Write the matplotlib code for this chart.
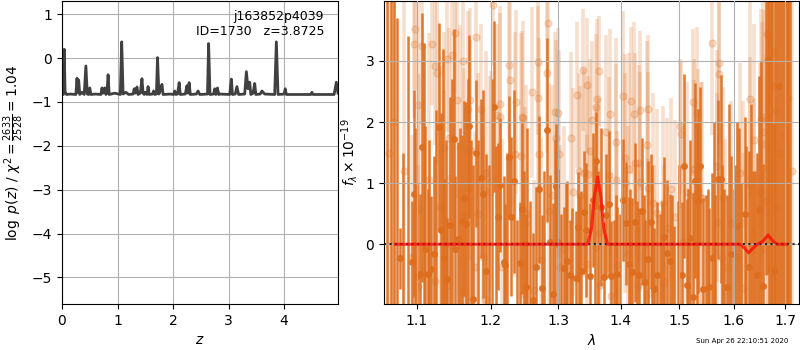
import matplotlib
matplotlib.use("Agg")
import matplotlib.pyplot as plt
from matplotlib.ticker import FixedLocator, NullLocator, FormatStrFormatter

# ---------------------------------------------------------------------------
# p(z) curve (vertices)
# ---------------------------------------------------------------------------
z_grid = [0.00, 0.025, 0.04, 0.055, 0.08, 0.15, 0.25, 0.27, 0.285, 0.30, 0.32,
          0.36, 0.40, 0.43, 0.455, 0.48, 0.50, 0.52, 0.60, 0.70, 0.72, 0.74,
          0.77, 0.79, 0.81, 0.83, 0.85, 0.95, 1.05, 1.075, 1.10, 1.15, 1.20,
          1.28, 1.30, 1.32, 1.35, 1.37, 1.41, 1.44, 1.46, 1.48, 1.50, 1.53,
          1.55, 1.57, 1.63, 1.65, 1.67, 1.70, 1.72, 1.745, 1.78, 1.80, 1.82,
          1.95, 2.01, 2.03, 2.05, 2.08, 2.11, 2.13, 2.22, 2.25, 2.27, 2.29,
          2.31, 2.42, 2.45, 2.48, 2.62, 2.64, 2.665, 2.73, 2.75, 2.77, 2.80,
          2.82, 2.84, 3.02, 3.05, 3.07, 3.12, 3.15, 3.18, 3.29, 3.32, 3.35,
          3.38, 3.40, 3.44, 3.47, 3.49, 3.57, 3.60, 3.65, 3.83, 3.86, 3.89,
          4.00, 4.02, 4.04, 4.48, 4.50, 4.52, 4.90, 4.94, 4.97]
logp = [-0.80, -0.83, 0.20, -0.76, -0.83, -0.82, -0.83, -0.46, -0.78, -0.50,
        -0.83, -0.78, -0.83, -0.18, -0.82, -0.83, -0.68, -0.83, -0.82, -0.83,
        -0.68, -0.80, -0.68, -0.83, -0.80, -0.38, -0.83, -0.80, -0.83, 0.37,
        -0.82, -0.78, -0.83, -0.82, -0.70, -0.80, -0.66, -0.83, -0.80, -0.47,
        -0.80, -0.83, -0.78, -0.83, -0.65, -0.83, -0.82, -0.75, -0.83, -0.82,
        0.01, -0.82, -0.70, -0.60, -0.83, -0.82, -0.83, -0.75, -0.83, -0.82,
        -0.56, -0.83, -0.82, -0.63, -0.80, -0.56, -0.83, -0.82, -0.75, -0.83,
        -0.82, 0.33, -0.83, -0.82, -0.70, -0.83, -0.68, -0.83, -0.82, -0.83,
        -0.48, -0.83, -0.82, -0.65, -0.83, -0.82, -0.31, -0.70, -0.55, -0.83,
        -0.80, -0.58, -0.83, -0.82, -0.75, -0.82, -0.83, 0.37, -0.83, -0.82,
        -0.70, -0.83, -0.83, -0.78, -0.83, -0.83, -0.55, -0.80]

obj_name = "j163852p4039"
obj_info = "ID=1730   z=3.8725"
chi2_label = r"$\log\ p(z)$ / $\chi^2=\frac{2633}{2528}=1.04$"
stamp = "Sun Apr 26 22:10:51 2020"

# ---------------------------------------------------------------------------
# Spectrum: dark (first beam) points, wavelength in micron, flux in 1e-19
# (the last block holds bars whose centres are hidden under other bars)
# ---------------------------------------------------------------------------
lam_dark = [1.062, 1.067, 1.075, 1.078, 1.093, 1.096, 1.100, 1.104, 1.107,
            1.111, 1.114, 1.118, 1.122, 1.129, 1.132, 1.136, 1.140, 1.144,
            1.149, 1.151, 1.155, 1.160, 1.163, 1.166, 1.170, 1.175, 1.179,
            1.186, 1.190, 1.194, 1.205, 1.211, 1.214, 1.219, 1.221, 1.226,
            1.230, 1.234, 1.238, 1.242, 1.246, 1.251, 1.257, 1.262, 1.267,
            1.271, 1.276, 1.283, 1.287, 1.292, 1.297, 1.300, 1.305, 1.309,
            1.314, 1.318, 1.322, 1.327, 1.331, 1.336, 1.340, 1.344, 1.349,
            1.354, 1.359, 1.363, 1.368, 1.372, 1.376, 1.380, 1.384, 1.389,
            1.394, 1.399, 1.404, 1.409, 1.413, 1.418, 1.423, 1.427, 1.431,
            1.436, 1.441, 1.446, 1.450, 1.456, 1.461, 1.467, 1.474, 1.479,
            1.484, 1.490, 1.497, 1.504, 1.509, 1.514, 1.519, 1.524, 1.529,
            1.534, 1.538, 1.543, 1.548, 1.554, 1.559, 1.565, 1.571, 1.575,
            1.581, 1.587, 1.595, 1.600, 1.606, 1.613, 1.621, 1.628, 1.636,
            1.644, 1.649, 1.656, 1.661, 1.665, 1.671, 1.677, 1.683, 1.687,
            1.695, 1.703, 1.710,
            1.071, 1.082, 1.089, 1.098, 1.109, 1.116, 1.125, 1.134, 1.138,
            1.146, 1.157, 1.168, 1.173, 1.183, 1.198, 1.202, 1.208, 1.224,
            1.248, 1.253, 1.279, 1.295, 1.312, 1.333, 1.357, 1.392, 1.415,
            1.439, 1.453, 1.470, 1.487, 1.500, 1.516, 1.531, 1.551, 1.562,
            1.578, 1.591, 1.603, 1.610, 1.624, 1.633, 1.641, 1.652, 1.668,
            1.674, 1.680, 1.692, 1.699, 1.706]
flux_dark = [-1.5, 4.3, -1.3, -0.23, -0.29, 0.83, -0.52, -0.48, 1.59,
             -0.07, -0.49, -0.41, -0.16, 1.92, 0.24, -0.23, -0.57, 0.31,
             1.72, -0.08, 0.08, 0.38, 0.75, 0.33, 1.93, -0.90, 1.49,
             1.08, 0.82, -0.43, 2.25, 0.45, 0.97, -0.29, -0.34, 1.43,
             0.45, 1.03, -1.20, -0.31, 0.58, -0.70, -1.10, -0.91, -0.37,
             0.90, -0.72, 1.87, 0.03, -0.82, 0.96, 0.03, -1.20, -0.39,
             -0.27, -0.50, -1.30, -0.55, 0.28, -0.43, 0.52, 0.23, -0.52,
             0.72, 1.37, -1.20, 0.61, -0.54, 0.48, 0.66, -0.52, -1.40,
             -0.49, -1.20, 0.72, 0.34, -0.32, -0.45, 0.36, -1.30, -0.51,
             0.54, -0.61, -0.24, 0.37, -0.74, -0.51, -1.30, 0.12, -0.15,
             -0.27, -1.30, -1.20, -0.51, 1.28, -0.66, 0.10, -0.86, 1.04,
             0.71, 1.28, -0.74, -1.40, -0.70, -0.23, -1.30, 1.06, 1.07,
             -1.40, -0.70, -0.16, -1.30, 0.30, -1.50, 0.49, -0.37, -1.40,
             -0.51, 0.56, -0.69, 4.50, 3.02, -1.50, -0.43, 4.80, 2.59,
             -1.60, 4.60, -1.40,
             -1.5, -1.8, -1.4, -1.6, -1.3, -1.9, -1.2, -1.7, -1.1,
             -1.5, -1.3, -1.8, -1.2, -1.4, -1.3, -1.6, -1.2, -1.5,
             -1.3, -1.4, -1.2, -1.3, -1.4, -1.2, -1.3, -1.2, -1.4,
             -1.3, -1.5, -1.2, -1.4, -1.3, -1.4, -1.2, -1.5, -1.3,
             -1.6, -1.3, -1.5, -1.2, -1.6, -1.3, -1.7, -1.4, -1.2,
             -1.5, -1.3, -1.4, -1.6, -1.2]
err_dark = [6.0, 5.5, 5.0, 0.5, 1.0, 1.7, 1.5, 1.3, 2.2,
            2.0, 1.4, 1.2, 1.6, 1.7, 1.9, 1.3, 1.0, 2.1,
            1.8, 1.2, 1.6, 1.4, 1.6, 2.0, 1.5, 2.2, 1.2,
            1.3, 1.7, 1.9, 1.4, 1.2, 1.1, 1.4, 1.0, 1.0,
            1.3, 1.5, 1.6, 1.0, 1.4, 1.2, 1.8, 1.1, 1.3,
            1.2, 1.2, 1.5, 1.1, 1.5, 1.0, 1.2, 1.7, 1.0,
            1.3, 0.9, 1.9, 1.1, 0.9, 1.3, 1.0, 1.1, 1.2,
            1.1, 0.8, 2.4, 1.3, 0.9, 1.0, 1.2, 0.9, 1.8,
            1.1, 1.7, 1.0, 1.0, 1.1, 1.2, 1.3, 2.0, 1.1,
            1.2, 1.0, 1.6, 1.1, 1.0, 1.2, 1.8, 1.3, 1.2,
            1.1, 1.6, 1.9, 1.2, 1.5, 1.4, 1.6, 1.7, 1.6,
            1.5, 1.3, 1.5, 2.2, 1.3, 1.4, 2.1, 1.3, 1.7,
            2.3, 1.5, 1.6, 2.2, 1.7, 2.5, 1.6, 1.9, 2.6,
            2.0, 2.2, 2.0, 5.0, 3.5, 6.0, 2.4, 6.0, 3.6,
            6.0, 6.0, 5.5,
            7.0, 3.3, 4.8, 3.5, 4.6, 3.6, 3.4, 4.9, 2.8,
            4.2, 3.2, 4.5, 2.9, 3.1, 2.6, 4.3, 2.8, 3.0,
            2.5, 3.3, 2.4, 3.0, 2.4, 2.0, 2.6, 2.0, 2.3,
            2.1, 2.8, 1.9, 2.2, 2.6, 2.3, 3.2, 2.4, 3.3,
            2.9, 3.6, 2.8, 3.1, 3.2, 3.6, 2.9, 4.4, 7.0,
            7.0, 7.0, 7.0, 7.0, 7.0]

# light (second beam) points
lam_light = [1.064, 1.070, 1.083, 1.093, 1.096, 1.097, 1.101, 1.102, 1.103,
             1.107, 1.116, 1.120, 1.124, 1.124, 1.127, 1.131, 1.136, 1.136,
             1.140, 1.143, 1.143, 1.147, 1.151, 1.154, 1.158, 1.161, 1.163,
             1.163, 1.168, 1.171, 1.171, 1.178, 1.179, 1.182, 1.187, 1.189,
             1.192, 1.193, 1.199, 1.201, 1.204, 1.209, 1.213, 1.214, 1.217,
             1.226, 1.228, 1.235, 1.236, 1.244, 1.245, 1.247, 1.247, 1.250,
             1.251, 1.261, 1.263, 1.269, 1.270, 1.271, 1.274, 1.283, 1.284,
             1.286, 1.291, 1.295, 1.297, 1.299, 1.301, 1.302, 1.309, 1.319,
             1.323, 1.329, 1.332, 1.334, 1.339, 1.341, 1.345, 1.345, 1.347,
             1.350, 1.353, 1.359, 1.360, 1.361, 1.365, 1.365, 1.366, 1.375,
             1.380, 1.382, 1.384, 1.392, 1.392, 1.393, 1.403, 1.406, 1.407,
             1.412, 1.413, 1.416, 1.421, 1.423, 1.428, 1.431, 1.432, 1.432,
             1.443, 1.445, 1.446, 1.446, 1.454, 1.455, 1.461, 1.471, 1.473,
             1.479, 1.486, 1.493, 1.502, 1.503, 1.507, 1.514, 1.524, 1.526,
             1.527, 1.532, 1.534, 1.539, 1.540, 1.560, 1.568, 1.569, 1.573,
             1.573, 1.577, 1.580, 1.583, 1.594, 1.607, 1.612, 1.617, 1.618,
             1.630, 1.631, 1.638, 1.638, 1.650, 1.652, 1.654, 1.656, 1.658,
             1.662, 1.664, 1.666, 1.670, 1.674, 1.677, 1.682, 1.682, 1.689,
             1.697, 1.706, 1.714]
flux_light = [1.5, 2.0, 1.2, -0.21, 3.27, 3.52, -0.70, 2.28, 0.58,
              3.25, 1.05, 3.28, 2.92, -0.60, 2.81, 0.61, 1.57, 0.41,
              3.03, 1.74, -0.67, 3.09, 3.46, 2.36, 1.59, 3.00, 0.48,
              -0.79, 2.21, 2.36, 1.55, -0.37, 3.39, 0.50, 2.21, -0.21,
              -0.90, 1.16, 0.85, 1.03, 3.91, 2.11, 2.09, 2.30, -0.37,
              2.93, 2.69, 1.47, 2.33, 1.45, 2.09, 2.06, -0.81, 0.35,
              0.50, 2.49, -0.75, 2.40, 2.98, 1.48, -0.26, 2.80, 3.62,
              0.54, 0.80, 2.17, 1.74, 2.14, 1.48, -0.37, -0.07, 1.74,
              0.85, 2.44, 1.20, 0.79, 2.85, 1.16, 2.60, -0.32, 1.15,
              1.53, 2.03, 2.24, -0.04, 2.38, 2.84, 0.19, -0.67, 1.83,
              1.14, 2.13, -0.84, 1.68, 1.05, -0.34, 2.42, 1.00, 1.41,
              -0.16, 1.23, 2.35, 2.13, 1.33, -0.68, 1.33, 2.19, 1.02,
              1.62, 0.92, -0.81, 2.22, 0.68, -0.71, 0.51, 0.67, -0.61,
              0.27, 0.90, 0.44, 1.93, 1.80, 0.04, 0.85, 2.32, 0.79,
              1.23, 2.15, 0.87, 0.76, 0.75, 3.29, 0.37, 1.28, 2.96,
              2.79, -0.23, 0.77, -0.37, 0.35, -0.21, 1.16, -0.71, 0.35,
              2.38, 0.97, 1.70, 0.17, 0.86, 2.05, 1.64, 2.08, 1.84,
              0.70, 3.44, 1.24, 1.05, 2.59, 3.15, 2.20, 0.61, 1.49,
              1.8, 2.4, 1.2]
err_light = [3.5, 3.2, 3.0, 2.0, 1.2, 1.0, 2.0, 1.8, 2.2,
             1.3, 2.4, 1.0, 1.3, 2.0, 1.5, 2.3, 1.9, 2.1,
             1.2, 1.8, 1.8, 1.1, 1.0, 1.6, 2.0, 1.2, 2.4,
             1.7, 1.6, 1.5, 1.8, 2.2, 1.0, 2.3, 1.4, 2.0,
             1.7, 2.0, 1.9, 1.8, 1.0, 1.5, 1.7, 1.6, 2.1,
             1.2, 1.4, 2.0, 1.5, 2.0, 1.4, 1.6, 2.0, 1.9,
             2.1, 1.4, 1.8, 1.5, 1.2, 1.9, 2.0, 1.3, 0.9,
             2.1, 1.8, 1.3, 1.6, 1.4, 1.7, 2.0, 2.0, 1.4,
             1.7, 1.2, 1.6, 1.8, 1.0, 1.7, 1.1, 2.1, 1.6,
             1.5, 1.3, 1.2, 2.3, 1.3, 0.9, 2.2, 1.9, 1.6,
             1.6, 1.4, 2.0, 1.7, 1.9, 2.2, 1.4, 1.8, 1.7,
             2.1, 1.9, 1.2, 1.5, 1.8, 2.0, 1.6, 1.3, 1.8,
             1.7, 1.9, 2.2, 1.2, 1.8, 2.0, 1.7, 1.6, 1.9,
             1.8, 1.5, 1.6, 1.1, 1.2, 1.9, 1.8, 1.2, 1.9,
             1.8, 1.4, 2.0, 1.9, 1.9, 1.5, 2.1, 1.9, 1.3,
             1.4, 2.2, 1.8, 2.1, 2.0, 2.2, 1.8, 2.2, 2.0,
             1.6, 2.1, 1.9, 2.2, 2.1, 1.8, 2.0, 1.9, 2.0,
             2.4, 1.5, 2.3, 2.5, 1.8, 1.6, 2.0, 2.6, 2.8,
             4.0, 3.8, 4.2]

# best-fit line model
lam_model = [1.072, 1.346, 1.352, 1.357, 1.362, 1.367, 1.372, 1.378, 1.612,
             1.620, 1.628, 1.636, 1.645, 1.656, 1.666, 1.676, 1.684, 1.703]
flux_model = [0.0, 0.0, 0.25, 0.80, 1.10, 0.80, 0.25, 0.0, 0.0,
              -0.06, -0.14, -0.07, 0.0, 0.05, 0.15, 0.05, 0.0, 0.0]

lam_ticks = [1.1, 1.2, 1.3, 1.4, 1.5, 1.6, 1.7]

dark_col = "#de6e1e"

fig = plt.figure(figsize=(8, 3.5), dpi=100)

# --- left: p(z) ---
ax1 = fig.add_axes([0.0775, 0.131, 0.345, 0.866])
ax1.plot(z_grid, logp, color="0.25", lw=2)
ax1.set_xlim(0, 4.97)
ax1.set_ylim(-5.61, 1.3)
ax1.set_xticks([0, 1, 2, 3, 4])
ax1.set_yticks([-5, -4, -3, -2, -1, 0, 1])
ax1.grid(True)
ax1.set_xlabel(r"$z$")
ax1.set_ylabel(chi2_label)
ax1.text(0.95, 0.97, obj_name + "\n" + obj_info, transform=ax1.transAxes,
         ha="right", va="top", fontsize=9)

# --- right: spectrum ---
ax2 = fig.add_axes([0.48, 0.131, 0.519, 0.866])
ax2.errorbar(lam_light, flux_light, err_light, marker="o", ms=5,
             linestyle="None", color=dark_col, alpha=0.22, elinewidth=2.6,
             zorder=1)
ax2.errorbar(lam_dark, flux_dark, err_dark, marker="o", ms=4,
             linestyle="None", color=dark_col, alpha=0.92, elinewidth=1.8,
             zorder=2)
ax2.axhline(0, color="k", ls=":", lw=1.5, alpha=0.8, zorder=3)
ax2.plot(lam_model, flux_model, color="red", lw=2.2, alpha=0.7, zorder=4)
ax2.set_xscale("log")
ax2.set_xlim(1.058, 1.7285)
ax2.set_ylim(-0.98, 3.98)
ax2.xaxis.set_major_locator(FixedLocator(lam_ticks))
ax2.xaxis.set_major_formatter(FormatStrFormatter("%.1f"))
ax2.xaxis.set_minor_locator(NullLocator())
ax2.set_yticks([0, 1, 2, 3])
ax2.set_axisbelow(False)
ax2.grid(True)
ax2.set_xlabel(r"$\lambda$")
ax2.set_ylabel(r"$f_\lambda\times10^{-19}$")

fig.text(0.985, 0.018, stamp, ha="right", va="bottom", fontsize=5)

fig.savefig("out.png", dpi=100)
